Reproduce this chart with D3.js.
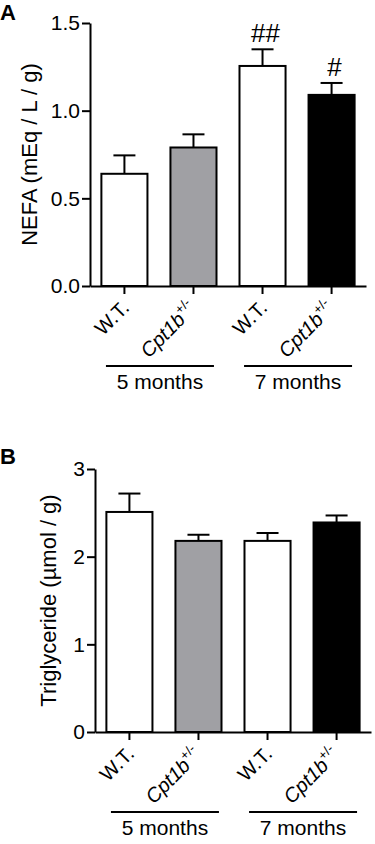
<!DOCTYPE html>
<html>
<head>
<meta charset="utf-8">
<script src="https://cdn.jsdelivr.net/npm/d3@7"></script>
<style>
  body { margin: 0; background: #fff; }
  svg { display: block; }
  text { font-family: "Liberation Sans", Arial, Helvetica, sans-serif; fill: #000; }
</style>
</head>
<body>
<div id="chart-area"></div>
<script>
// data
var categories = ["W.T.", "Cpt1b", "W.T.", "Cpt1b"];
var groups = ["5 months", "7 months"];
var barFills = ["#ffffff", "#a0a0a4", "#ffffff", "#000000"];

var nefaMean = [0.64, 0.79, 1.255, 1.09];
var nefaErr  = [0.105, 0.075, 0.095, 0.068];
var nefaMarks = ["", "", "##", "#"];
var nefaTicks = [0, 0.5, 1.0, 1.5];

var tgMean = [2.51, 2.18, 2.18, 2.39];
var tgErr  = [0.21, 0.07, 0.09, 0.08];
var tgMarks = ["", "", "", ""];
var tgTicks = [0, 1, 2, 3];

var width = 375, height = 844;

var svg = d3.select("#chart-area")
    .append("svg")
    .attr("width", width)
    .attr("height", height);

function drawPanel(p) {
    var g = svg.append("g");

    var x = d3.scaleBand()
        .domain(d3.range(categories.length))
        .range([p.left, p.right])
        .paddingInner(0.333)
        .paddingOuter(0.165);

    var y = d3.scaleLinear()
        .domain([0, d3.max(p.ticks)])
        .range([p.bottom, p.top]);

    // bars
    g.selectAll("rect.bar").data(p.mean).enter().append("rect")
        .attr("class", "bar")
        .attr("x", (d, i) => x(i))
        .attr("y", (d) => y(d))
        .attr("width", x.bandwidth())
        .attr("height", (d) => y(0) - y(d))
        .attr("fill", (d, i) => barFills[i])
        .attr("stroke", "#000")
        .attr("stroke-width", 2);

    // error bars, upper only
    var cx = (i) => x(i) + x.bandwidth() / 2;
    g.selectAll("line.err").data(p.mean).enter().append("line")
        .attr("class", "err")
        .attr("x1", (d, i) => cx(i)).attr("x2", (d, i) => cx(i))
        .attr("y1", (d) => y(d))
        .attr("y2", (d, i) => y(d + p.err[i]))
        .attr("stroke", "#000").attr("stroke-width", 2);
    g.selectAll("line.cap").data(p.mean).enter().append("line")
        .attr("class", "cap")
        .attr("x1", (d, i) => cx(i) - 11).attr("x2", (d, i) => cx(i) + 11)
        .attr("y1", (d, i) => y(d + p.err[i]))
        .attr("y2", (d, i) => y(d + p.err[i]))
        .attr("stroke", "#000").attr("stroke-width", 2);

    // significance marks
    g.selectAll("text.mark").data(p.marks).enter().append("text")
        .attr("class", "mark")
        .attr("x", (d, i) => cx(i) + 3)
        .attr("y", (d, i) => y(p.mean[i] + p.err[i]) - 7)
        .attr("text-anchor", "middle")
        .attr("font-size", "26px")
        .text((d) => d);

    // axes
    var yAxis = g.append("g")
        .attr("transform", "translate(" + p.left + ",0)")
        .call(d3.axisLeft(y).tickValues(p.ticks).tickFormat(p.fmt)
            .tickSize(8).tickSizeOuter(0).tickPadding(2));
    var xAxis = g.append("g")
        .attr("transform", "translate(0," + p.bottom + ")")
        .call(d3.axisBottom(x).tickFormat("").tickSize(8).tickSizeOuter(0));
    [yAxis, xAxis].forEach(function(a) {
        a.select(".domain").attr("stroke-width", 2);
        a.selectAll(".tick line").attr("stroke-width", 2);
    });
    yAxis.selectAll(".tick text")
        .attr("font-size", "21px")
        .attr("font-family", "Liberation Sans, Arial, sans-serif");

    // rotated category labels
    categories.forEach(function(c, i) {
        var t = g.append("text")
            .attr("text-anchor", "end")
            .attr("font-size", "20px");
        if (c === "W.T.") {
            t.attr("transform", "translate(" + (cx(i) + 6) + "," + (p.bottom + 23) + ") rotate(-45)")
                .text(c);
        } else {
            t.attr("transform", "translate(" + (cx(i) + 4) + "," + (p.bottom + 24) + ") rotate(-45)");
            t.append("tspan").attr("font-style", "italic").text(c);
            t.append("tspan").attr("font-size", "13px").attr("dy", -9).text("+/-");
        }
    });

    // group brackets
    groups.forEach(function(name, k) {
        var mid = (cx(2 * k) + cx(2 * k + 1)) / 2 + 1;
        g.append("line")
            .attr("x1", mid - 54).attr("x2", mid + 54)
            .attr("y1", p.groupLine).attr("y2", p.groupLine)
            .attr("stroke", "#000").attr("stroke-width", 2);
        g.append("text")
            .attr("x", mid)
            .attr("y", p.groupLine + 23)
            .attr("text-anchor", "middle")
            .attr("font-size", "21px")
            .text(name);
    });

    // y axis title
    g.append("text")
        .attr("transform", "translate(" + p.titleX + "," + (p.top + p.bottom) / 2 + ") rotate(-90)")
        .attr("text-anchor", "middle")
        .attr("font-size", p.titleSize)
        .text(p.title);

    // panel letter
    g.append("text")
        .attr("x", 0)
        .attr("y", p.letterY)
        .attr("font-size", "22px")
        .attr("font-weight", "bold")
        .text(p.letter);
}

drawPanel({
    left: 90, right: 366, top: 23, bottom: 286,
    mean: nefaMean, err: nefaErr, marks: nefaMarks, ticks: nefaTicks,
    fmt: d3.format(".1f"),
    groupLine: 366,
    title: "NEFA (mEq / L / g)", titleX: 37, titleSize: "22px",
    letter: "A", letterY: 20
});

drawPanel({
    left: 95, right: 371, top: 469, bottom: 732,
    mean: tgMean, err: tgErr, marks: tgMarks, ticks: tgTicks,
    fmt: d3.format("d"),
    groupLine: 812,
    title: "Triglyceride (\u00b5mol / g)", titleX: 56, titleSize: "22px",
    letter: "B", letterY: 464
});
</script>
</body>
</html>
